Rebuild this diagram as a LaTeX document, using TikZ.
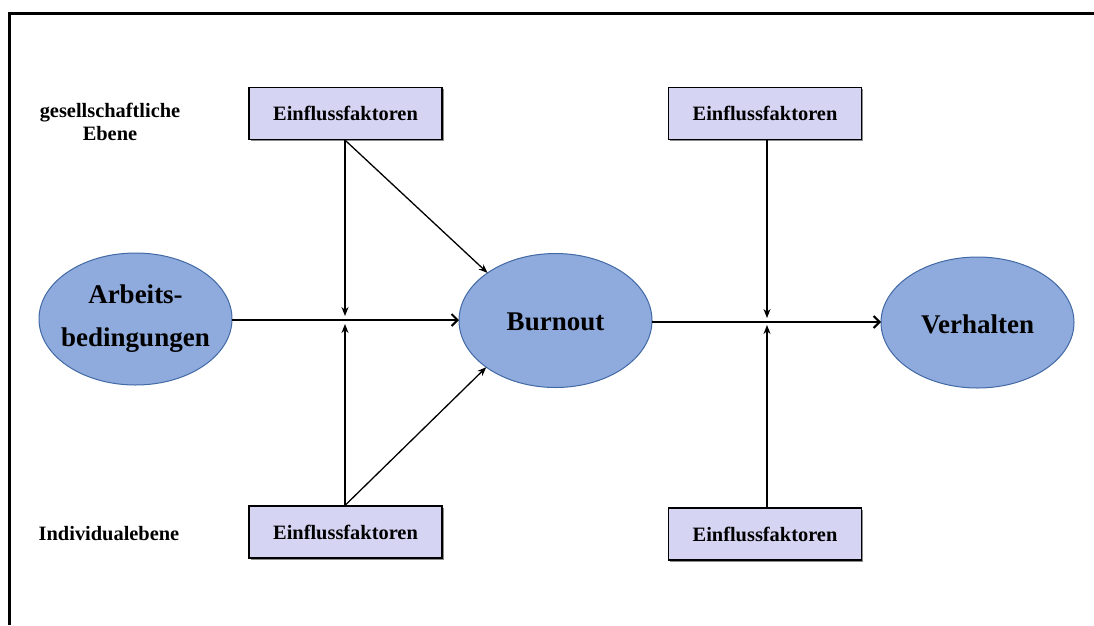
\documentclass[tikz,border=0pt]{standalone}
\usepackage{fontspec}
\setmainfont{Liberation Serif}
\usetikzlibrary{arrows.meta,shadows,shapes.geometric}
\definecolor{boxfill}{RGB}{213,213,243}
\definecolor{ellfill}{RGB}{143,170,220}
\definecolor{ellline}{RGB}{65,105,165}
% text that does not enlarge the surrounding ellipse; optional argument lowers it
\newcommand\ellipsetext[2][6.75pt]{\raisebox{-#1}{\smash{\makebox[0pt]{\begin{tabular}{@{}c@{}}#2\end{tabular}}}}}
\tikzset{
  factor/.style={draw=black, line width=1.2pt, fill=boxfill,
    minimum width=193pt, minimum height=52pt, inner sep=0pt,
    font=\fontsize{20.4}{24}\selectfont\bfseries,
    drop shadow={shadow xshift=1.5pt, shadow yshift=-1.5pt, fill=black!45, opacity=1}},
  concept/.style={ellipse, draw=ellline, line width=1pt, fill=ellfill,
    inner sep=0pt, outer sep=0pt, minimum width=193pt,
    font=\fontsize{27}{43}\selectfont\bfseries},
  level/.style={align=center, font=\fontsize{20.4}{23}\selectfont\bfseries},
  mainarrow/.style={line width=2.2pt, -{Straight Barb[length=6pt,width=12pt,line width=2pt]}},
  modarrow/.style={line width=1.3pt, -{Stealth[length=9pt,width=7pt]}},
}
\begin{document}
\begin{tikzpicture}[x=1pt,y=-1pt]
  \useasboundingbox (0,0) rectangle (1094,625);
  % page frame (top and left edges)
  \draw[line width=3pt] (1094,13.5) -- (9.5,13.5) -- (9.5,625);

  % level labels
  \node[level] (lgs) at (110,122) {gesellschaftliche\\Ebene};
  \node[level] (lind) at (109,534) {Individualebene};

  % influence factor boxes
  \node[factor] (ftl) at (345.5,113.5) {Einflussfaktoren};
  \node[factor] (fbl) at (345.5,532) {Einflussfaktoren};
  \node[factor] (ftr) at (765,113.5) {Einflussfaktoren};
  \node[factor] (fbr) at (765,534) {Einflussfaktoren};

  % main concepts
  \node[concept, minimum height=132pt] (arb) at (135.5,319) {\ellipsetext{Arbeits-\\bedingungen}};
  \node[concept, minimum height=134pt] (burn) at (555.5,320.5) {\ellipsetext[16pt]{Burnout}};
  \node[concept, minimum height=131pt] (verh) at (977.5,322.5) {\ellipsetext[16.5pt]{Verhalten}};

  % end points of the moderating arrows
  \coordinate (m1t) at (345,316);
  \coordinate (m1b) at (345,324);
  \coordinate (m2t) at (767,318);
  \coordinate (m2b) at (767,325);

  % main causal chain
  \draw[mainarrow] (arb.east |- 0,320) -- (burn.west |- 0,320);
  \draw[mainarrow] (burn.east |- 0,322) -- (verh.west |- 0,322);

  % moderators
  \draw[modarrow] (ftl.south -| m1t) -- (m1t);
  \draw[modarrow] (fbl.north -| m1b) -- (m1b);
  \draw[modarrow] (ftl.south -| m1t) -- (burn.145);
  \draw[modarrow] (fbl.north -| m1b) -- (burn.214);
  \draw[modarrow] (ftr.south -| m2t) -- (m2t);
  \draw[modarrow] (fbr.north -| m2b) -- (m2b);
\end{tikzpicture}
\end{document}
